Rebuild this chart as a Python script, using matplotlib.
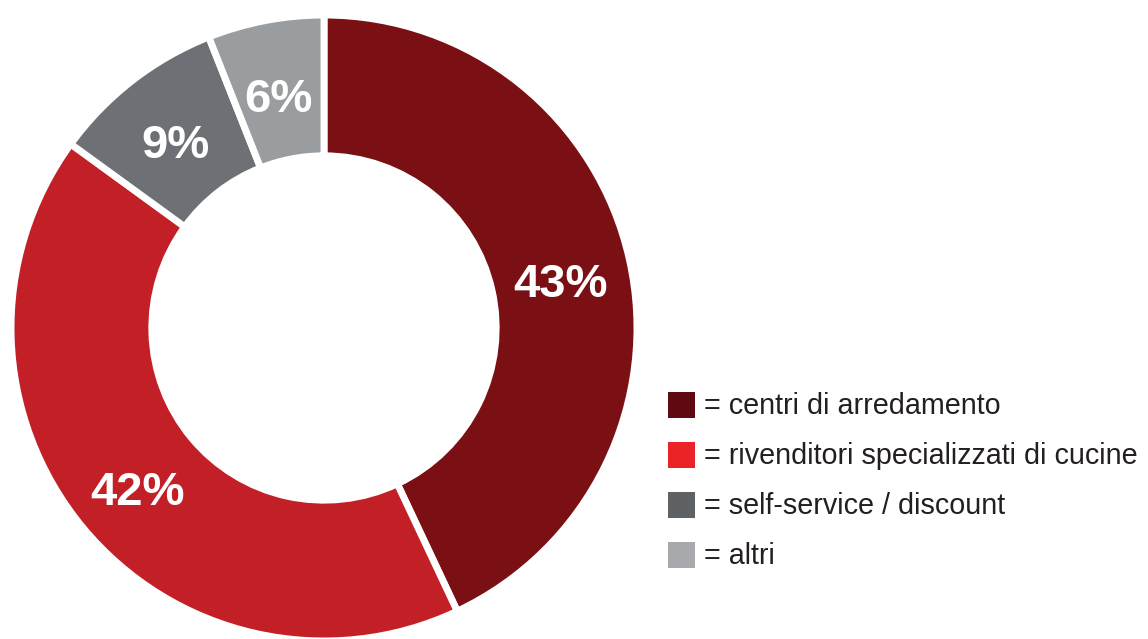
import matplotlib.pyplot as plt
from matplotlib.patches import Rectangle

plt.rcParams['font.family'] = ['Liberation Sans', 'DejaVu Sans']

categorie = ['centri di arredamento', 'rivenditori specializzati di cucine',
             'self-service / discount', 'altri']
quote = [43, 42, 9, 6]
colori_torta = ['#7a1014', '#c22026', '#6d7175', '#9a9d9f']
colori_legenda = ['#5e0a10', '#ec2229', '#5f6264', '#a7a9ac']

W, H = 1148, 639
fig = plt.figure(figsize=(W / 100, H / 100), dpi=100)
ax = fig.add_axes([0, 0, 1, 1])

cx, cy, r = 324, H - 328, 313
spessore = 0.45
wedges, testi = ax.pie(quote, colors=colori_torta, startangle=90, counterclock=False,
                       center=(cx, cy), radius=r, frame=True,
                       labels=[f'{q}%' for q in quote], labeldistance=1 - spessore / 2,
                       wedgeprops=dict(width=r * spessore, edgecolor='white', linewidth=5),
                       textprops=dict(color='white', fontsize=34, fontweight='bold',
                                      ha='center', va='center'))
# abbasso un po' le etichette
for t in testi:
    x, y = t.get_position()
    t.set_position((x, y - 10))

ax.set_xlim(0, W)
ax.set_ylim(0, H)
ax.set_aspect('equal')
ax.axis('off')

# legenda
for i, (nome, col) in enumerate(zip(categorie, colori_legenda)):
    y = H - 405 - i * 50
    ax.add_patch(Rectangle((668, y - 13), 27, 26, color=col, lw=0))
    ax.text(704, y - 1, '= ' + nome, fontsize=20.7, color='#231f20', va='center', ha='left')

fig.savefig('out.png', dpi=100)
